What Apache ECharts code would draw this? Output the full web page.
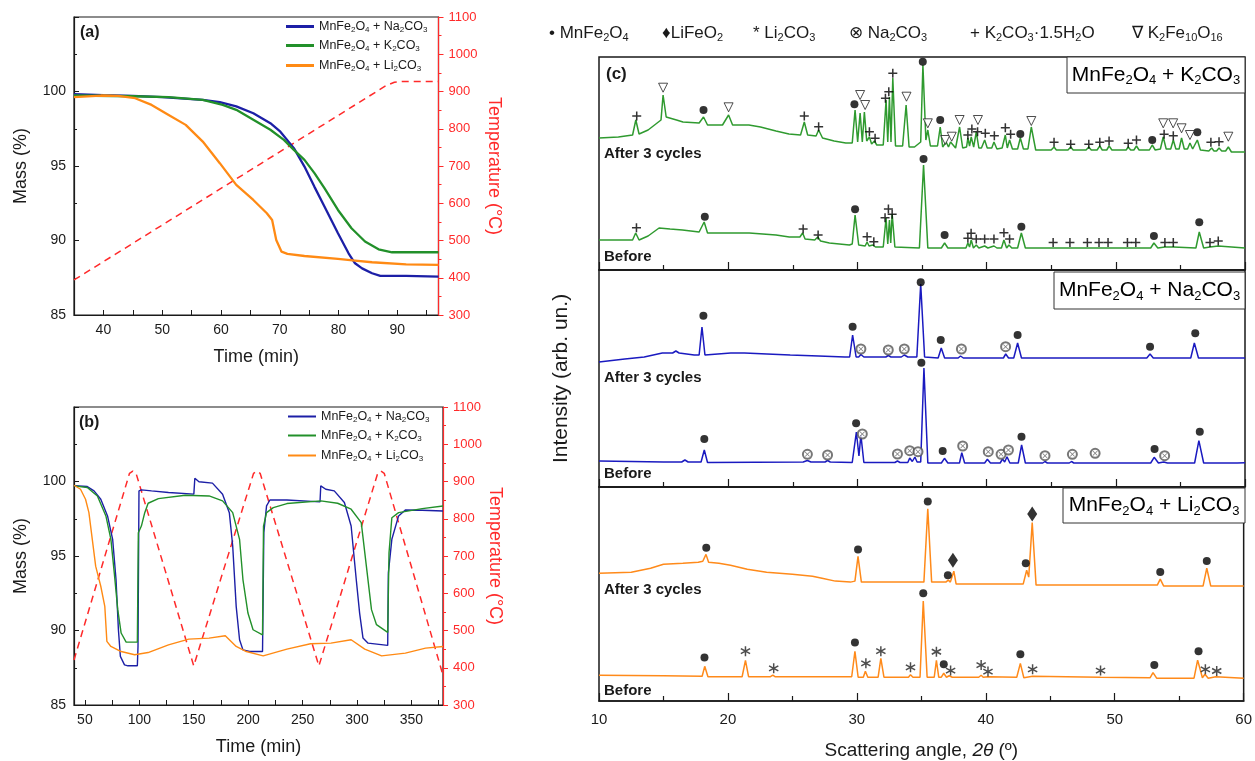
<!DOCTYPE html>
<html>
<head>
<meta charset="utf-8">
<script src="https://cdn.jsdelivr.net/npm/echarts@6/dist/echarts.min.js"></script>
<style>
  html, body { margin: 0; padding: 0; background: #fff; }
  #chart { width: 1255px; height: 761px; }
</style>
</head>
<body>
<div id="chart"></div>
<script>
// ---------- panel (a): first heating, [time (min), mass (%)] ----------
const aNa = [[35,99.82],[40,99.75],[45,99.7],[50,99.62],[56.9,99.44],[59.8,99.28],[62.6,99.0],[65.5,98.54],[68.4,97.87],[70.1,97.3],[72.4,96.2],[74.2,94.96],[75.9,93.6],[77.6,92.28],[79.9,90.49],[81.7,89.14],[82.8,88.47],[84.0,88.13],[85.7,87.8],[87.1,87.62],[91.5,87.62],[97,87.58]];
const aK = [[35,99.73],[45,99.68],[51.1,99.62],[56.9,99.44],[60.3,99.1],[62.6,98.77],[65.5,98.1],[68.4,97.43],[70.7,96.75],[72.4,96.08],[74.2,95.41],[75.9,94.52],[77.6,93.51],[79.9,92.05],[82.2,90.82],[84.5,89.93],[86.8,89.41],[89.1,89.21],[97,89.21]];
const aLi = [[35,99.62],[39.6,99.73],[42.5,99.71],[45.4,99.55],[48.2,99.1],[51.1,98.43],[54.0,97.76],[56.9,96.64],[59.8,95.19],[62.6,93.73],[65.5,92.72],[67.8,91.83],[68.7,91.38],[69.4,90.04],[70.3,89.25],[71.3,89.1],[74.2,88.96],[79.9,88.76],[82.8,88.65],[85.7,88.54],[91.5,88.4],[97,88.36]];
const aTemp = [[35,394],[88,915],[89.5,925],[91,927],[97,927]];
const aTimeLabels = [40,50,60,70,80,90];
const aTimeTicks = [40,45,50,55,60,65,70,75,80,85,90,95];

// ---------- panel (b): three cycles ----------
const bNa = [[40,99.71],[52.2,99.66],[58.4,99.37],[64.6,98.81],[70.8,97.69],[75.5,96.12],[78.6,93.42],[80.8,90.05],[82.6,88.26],[86.4,87.69],[89.5,87.63],[98.2,87.63],[98.8,88.93],[99.7,99.37],[101.9,99.44],[111.2,99.37],[126.8,99.26],[150.1,99.15],[151,100.22],[154.8,99.98],[167.2,99.89],[176.5,99.15],[182.7,97.91],[185.8,95.67],[189.0,91.62],[192.1,89.38],[195.2,88.7],[201.4,88.59],[213.2,88.59],[214.4,96.56],[216.9,98.36],[220.0,98.76],[235.6,98.76],[266.0,98.63],[266.7,99.71],[271.3,99.48],[279.1,99.37],[288.4,98.59],[294.6,97.01],[299.3,93.42],[302.4,91.17],[305.5,89.49],[310.2,89.15],[328.2,89.0],[328.8,93.87],[332.0,96.12],[338.2,97.69],[344.4,98.09],[359.9,98.07],[379,98.02]];
const bK = [[40,99.71],[52.2,99.6],[61.5,99.03],[69.3,97.69],[73.9,96.12],[77.0,93.87],[80.2,91.4],[83.3,89.83],[87.9,89.22],[98.2,89.22],[99.1,96.56],[101.9,97.01],[105.0,97.91],[108.1,98.54],[117.5,98.85],[142.3,99.08],[164.1,99.03],[176.5,98.7],[185.8,97.91],[192.1,96.12],[195.2,93.42],[199.8,91.17],[204.5,90.05],[213.2,89.71],[214.1,97.01],[216.9,97.91],[223.1,98.25],[235.6,98.52],[266.7,98.7],[282.2,98.54],[294.6,98.14],[303.9,97.24],[308.6,94.32],[313.3,91.4],[317.9,90.39],[328.2,89.87],[329.4,95.22],[332.0,97.57],[338.2,97.91],[359.9,98.18],[379,98.36]];
const bLi = [[40,99.75],[46.0,99.48],[50.6,98.81],[53.7,97.91],[56.8,96.12],[59.9,94.32],[64.6,92.97],[68.3,91.62],[70.2,89.27],[73.9,88.93],[83.3,88.59],[95.7,88.37],[108.1,88.52],[126.8,89.04],[145.4,89.42],[164.1,89.49],[179.0,89.65],[189.0,88.93],[198.3,88.59],[213.8,88.3],[235.6,88.75],[257.3,89.11],[276.0,89.15],[294.6,89.38],[307.1,88.75],[322.6,88.3],[344.4,88.48],[363.0,88.82],[379,88.93]];
const bTemp = [[40,421],[91,922],[94,928],[97,922],[150,405],[205,922],[208,928],[211,922],[265,405],[319,922],[322,928],[325,922],[379,380]];
const bTimeLabels = [50,100,150,200,250,300,350];
const bTimeTicks = [50,75,100,125,150,175,200,225,250,275,300,325,350,375];

// ---------- panel (c): XRD, [2theta, intensity (arb.)] ----------
const cKAfter = [[10,132],[11.5,133],[12.6,135],[12.85,150],[13.1,136],[13.8,140],[14.4,146],[14.8,150],[14.96,175],[15.2,153],[16.0,150],[16.5,148],[17.75,147],[18.09,153],[18.4,145],[19.56,145],[20.03,155],[20.34,145],[21.6,145],[22.5,143],[23.7,139],[24.7,136],[25.6,135],[25.89,148],[26.15,135],[26.8,134],[27.0,140],[27.3,132],[28.2,129],[29.1,127],[29.6,127],[29.82,160],[30.02,128],[30.21,157],[30.38,128],[30.54,158],[30.72,129],[30.93,133],[31.1,126],[31.32,129],[31.5,125],[32.0,125],[32.22,170],[32.35,128],[32.48,173],[32.6,128],[32.74,192],[32.95,124],[33.5,124],[33.77,165],[34.0,123],[34.42,123],[34.9,128],[35.07,205],[35.3,130],[35.45,140],[35.65,124],[36.2,124],[36.41,143],[36.6,123],[36.87,128],[37.05,123],[37.21,128],[37.6,122],[37.91,143],[38.15,122],[38.45,123],[38.55,132],[38.68,124],[38.81,133],[39.0,123],[39.2,138],[39.4,122],[39.6,122],[39.85,130],[40.05,122],[40.4,122],[40.57,128],[40.8,121],[41.2,122],[41.45,135],[41.6,122],[41.78,130],[42.0,121],[42.4,121],[42.61,132],[42.85,121],[43.2,121],[43.46,143],[43.8,120],[45.0,120],[45.22,123],[45.4,120],[46.3,120],[46.51,123],[46.7,120],[47.7,120],[47.91,123],[48.1,120],[48.55,120],[48.76,124],[48.95,120],[49.3,120],[49.48,124],[49.7,120],[50.8,120],[50.96,123],[51.15,120],[51.4,120],[51.6,124],[51.8,120],[52.6,120],[52.82,125],[53.05,120],[53.45,121],[53.67,133],[53.9,121],[54.25,121],[54.45,130],[54.65,121],[54.9,121],[55.09,132],[55.3,121],[55.55,121],[55.74,127],[55.95,121],[56.1,122],[56.31,130],[56.55,120],[57.2,119],[57.42,122],[57.6,119],[57.8,119],[57.99,122],[58.2,119],[58.5,119],[58.71,123],[58.95,118],[60,118]];
const cKBefore = [[10,30],[12.6,30],[12.84,37],[13.1,30],[13.8,34],[14.65,42],[15.5,41],[16.46,40],[17.75,38],[18.14,48],[18.4,37],[19.5,37],[21.63,37],[23.7,35],[24.73,33],[25.55,33],[25.76,37],[25.95,31],[26.7,30],[26.93,33],[27.15,29],[27.83,27],[29.38,25],[29.6,26],[29.82,55],[30.1,25],[30.6,24],[30.75,28],[30.9,24],[31.19,25],[31.4,23],[32.0,23],[32.22,52],[32.35,26],[32.48,50],[32.58,27],[32.69,56],[32.9,23],[34.8,22],[35.12,105],[35.45,22],[36.5,22],[36.75,27],[37.0,22],[38.4,22],[38.55,27],[38.68,23],[38.81,30],[38.98,22],[39.2,25],[39.4,22],[39.85,24],[40.1,22],[40.57,24],[40.8,22],[41.15,22],[41.34,30],[41.55,22],[41.73,25],[41.95,22],[42.4,22],[42.69,37],[43.0,22],[52.7,22],[52.95,27],[53.25,22],[53.8,23],[54.45,23],[56.2,22],[56.46,38],[56.8,22],[57.29,23],[57.93,24],[60,22]];
const cNaAfter = [[10,125],[12,128],[13.5,130],[14.9,134],[15.7,134],[15.95,136],[16.2,134],[17.37,132],[17.75,132],[17.97,160],[18.2,132],[20.2,134],[21.26,134],[23.0,133],[24.8,132],[27.0,131],[29.03,130],[29.4,130],[29.63,152],[29.9,130],[30.1,130],[30.27,132.5],[30.5,130],[32.2,130],[32.39,131.5],[32.6,130],[33.4,130],[33.63,132],[33.9,130],[34.6,130],[34.9,203],[35.2,130],[36.25,129],[36.49,139],[36.75,129],[37.8,129],[37.98,131],[38.2,129],[41.3,129],[41.48,133],[41.7,129],[42.1,129],[42.4,144],[42.7,129],[52.4,129],[52.65,133],[52.9,129],[55.8,129],[56.08,144],[56.4,129],[60,129]];
const cNaBefore = [[10,26],[15,25],[16.4,25],[16.65,27],[16.9,25],[17.9,25],[18.15,37],[18.4,24.5],[25.8,25],[26.13,26.5],[26.4,25],[27.5,25],[27.69,26.5],[27.9,25],[29.6,24.5],[29.92,55],[30.12,31],[30.27,52],[30.5,24.5],[32.9,24.5],[33.1,26],[33.3,24.5],[33.9,24.5],[34.05,29],[34.25,25.5],[34.45,30],[34.62,25],[34.9,25],[35.15,119],[35.45,24],[36.5,24],[36.74,28.7],[37.0,24],[37.9,24],[38.08,34.3],[38.3,24],[39.85,24],[40.06,27.7],[40.3,24],[41.05,24],[41.23,28],[41.4,25],[41.58,30.3],[41.8,24],[42.45,24],[42.71,42],[43.0,24],[44.35,24],[44.52,25.5],[44.7,24],[46.4,24],[46.57,25.5],[46.75,24],[48.15,24],[48.3,26],[48.5,24],[52.7,24],[52.97,29.7],[53.3,24],[53.71,25],[54.0,24],[56.1,24],[56.43,46.3],[56.8,24],[58.6,24],[58.73,26],[58.85,24],[59.15,24],[59.26,26],[59.4,24],[60,24.3]];
const cLiAfter = [[10,129],[12.5,130],[14.0,134],[15.0,138],[16.5,139],[17.7,140],[18.05,141],[18.3,148],[18.5,140],[19.3,139],[20.2,137],[21.5,133],[23.0,130],[25.0,128],[26.56,126],[27.3,124],[28.33,121],[29.5,120],[29.85,121],[30.09,146],[30.35,120],[32.0,120],[34.16,120],[35.2,120],[35.5,194],[35.8,120],[36.9,120],[37.09,122],[37.25,120],[37.52,131],[37.7,118],[42.9,118],[43.17,132],[43.33,125],[43.6,180],[43.9,117],[53.3,117],[53.53,123],[53.8,116],[56.85,116],[57.14,134],[57.45,116],[60,116]];
const cLiBefore = [[10,26],[15,25.5],[18.0,25],[18.2,35],[18.45,24.5],[21.1,24.5],[21.36,41],[21.6,24.5],[23.3,24.5],[23.48,26],[23.65,24.5],[29.6,24.5],[29.85,50],[30.1,24],[30.5,24],[30.66,30],[30.85,24],[31.65,24],[31.86,43],[32.1,24],[34.0,24],[34.16,26.5],[34.35,24],[34.9,24],[35.15,101],[35.45,24],[36.0,24],[36.17,41],[36.35,24],[36.55,24],[36.74,28],[36.95,24],[37.16,25.5],[37.4,24],[39.45,24],[39.64,26],[39.8,24],[40.17,24.5],[42.4,24],[42.68,38],[42.95,23.5],[43.63,25],[48.9,24],[52.75,23.5],[52.97,28.7],[53.25,23],[56.15,23],[56.43,41.3],[56.8,23.5],[57.0,27],[57.25,23],[57.84,24.5],[60,23]];
const cAngleLabels = [10,20,30,40,50,60];

// phase markers above the peaks
const kSpinel = [[18.09,160],[29.77,165.7],[35.06,208.3],[36.41,150],[42.61,136],[52.82,130],[56.31,137.7],[18.19,53.3],[29.82,60.7],[35.12,111],[36.75,35],[42.69,43.3],[52.95,34],[56.46,47.7]];
const kFerrite = [[14.96,182.3],[20.03,162.7],[30.21,175],[30.6,165],[33.8,173.3],[35.45,146.7],[36.8,130],[37.3,133.3],[37.91,150],[39.33,150],[43.46,149],[53.67,146.7],[54.44,146.7],[55.09,141.7],[55.74,135],[58.71,133.3]];
const kHydrate = [[12.92,154],[25.89,154],[27.0,143.3],[30.93,138.3],[31.37,131.7],[32.17,171.7],[32.43,178.3],[32.74,196.7],[38.55,135],[38.86,141],[39.3,138.3],[39.9,136.7],[40.6,134.3],[41.45,142.3],[41.86,135.7],[45.22,127.7],[46.51,125.7],[47.91,125.7],[48.76,127.7],[49.48,129],[50.96,126.7],[51.6,130],[53.74,135.7],[54.45,134.3],[57.36,127.7],[57.99,128.3],
  [12.9,42.3],[25.8,41],[26.96,35],[30.75,33.3],[31.27,28.3],[32.14,52.3],[32.4,61],[32.69,55.7],[38.55,31.7],[38.8,36.7],[39.2,31],[39.85,31],[40.57,31],[41.34,37.3],[41.78,31],[45.15,27.5],[46.45,27.5],[47.8,27.5],[48.7,27.5],[49.4,27.5],[50.9,27.5],[51.55,27.5],[53.8,27.5],[54.45,27.5],[57.29,27.5],[57.93,29]];
const naSpinel = [[18.08,171.3],[29.63,160.3],[34.9,204.7],[36.45,147],[42.4,152],[52.65,140.3],[56.15,153.7],[18.15,48],[29.9,63.7],[34.95,124.3],[36.6,36],[42.7,50.3],[53.0,38],[56.5,55.3]];
const naCarbonate = [[30.27,138],[32.39,137],[33.63,138],[38.05,138],[41.47,140.3],[26.13,32.7],[27.69,32],[30.38,53],[33.1,33],[34.05,36.3],[34.69,35.3],[38.15,41],[40.13,35.3],[41.12,32.7],[41.69,37],[44.52,31.3],[46.64,32.7],[48.4,33.7],[53.78,31.3]];
const liSpinel = [[18.32,154.7],[30.09,153],[35.5,201.3],[37.06,127],[43.1,139],[53.53,130.3],[57.14,141.3],[18.18,44],[29.85,59],[35.15,108.7],[36.74,37],[42.68,47.3],[53.07,36.3],[56.5,50.3]];
const liFerrite = [[37.45,142],[43.6,188.7]];
const liCarbonate = [[21.36,50.3],[23.55,33],[30.7,38],[31.86,50.3],[34.16,34],[36.17,49.7],[37.27,30.7],[39.64,36.3],[40.17,29.7],[43.63,32],[48.9,30.7],[57.03,32],[57.91,30.3]];

const FONT = '"Liberation Sans", Arial, Helvetica, sans-serif';
const INK = '#1a1a1a';
const RED = '#ff2a2a';
const BLUE = '#1c1fa6', GREEN = '#22902a', ORANGE = '#ff8a14';
const XBLUE = '#1a1ac0', XGREEN = '#2f9a2f', XORANGE = '#ff8a1a';

// 'MnFe_2O_4' -> rich text with subscripts
function chem(s, n, sub) {
  return s.split(/_(\d+)/).map((p, i) => p === '' ? '' : (i % 2 ? `{${sub}|${p}}` : `{${n}|${p}}`)).join('');
}

const mixNames = { Na: 'MnFe_2O_4 + Na_2CO_3', K: 'MnFe_2O_4 + K_2CO_3', Li: 'MnFe_2O_4 + Li_2CO_3' };

const chart = echarts.init(document.getElementById('chart'));

const legendRich = {
  n: { fontSize: 12.5, color: INK, fontFamily: FONT },
  s: { fontSize: 8, color: INK, fontFamily: FONT, padding: [7, 0, 0, 0] }
};
function legendRow(name, left, yc) {
  return {
    data: [name], left, top: yc - 8, padding: 0, icon: 'rect', itemWidth: 28, itemHeight: name[0] === 'a' ? 3 : 2,
    formatter: n => chem(mixNames[n.slice(1)], 'n', 's'),
    textStyle: { rich: legendRich }, selectedMode: false
  };
}

function massAxis(gi) {
  return {
    gridIndex: gi, type: 'value', min: 85, max: 105, interval: 5, position: 'left',
    name: 'Mass (%)', nameLocation: 'middle', nameGap: 44,
    nameTextStyle: { fontSize: 18, color: INK, fontFamily: FONT },
    axisLine: { show: true, lineStyle: { color: INK, width: 1.2 } },
    axisTick: { inside: true, length: 5, lineStyle: { color: INK } },
    minorTick: { show: true, splitNumber: 2, length: 3, lineStyle: { color: INK } },
    axisLabel: { fontSize: 14, color: INK, fontFamily: FONT, margin: 8, formatter: v => (v === 105 ? '' : String(v)) },
    splitLine: { show: false }
  };
}
function tempAxis(gi, gap) {
  return {
    gridIndex: gi, type: 'value', min: 300, max: 1100, interval: 100, position: 'right',
    name: 'Temperature (°C)', nameLocation: 'middle', nameGap: gap, nameRotate: -90,
    nameTextStyle: { fontSize: 18, color: RED, fontFamily: FONT },
    axisLine: { show: true, lineStyle: { color: RED, width: 1.2 } },
    axisTick: { length: 5, lineStyle: { color: RED } },
    minorTick: { show: true, splitNumber: 2, length: 3, lineStyle: { color: RED } },
    axisLabel: { fontSize: 13, color: RED, fontFamily: FONT, margin: 10, formatter: v => String(v) },
    splitLine: { show: false }
  };
}
function timeAxis(gi, min, max, labels, ticks) {
  return {
    gridIndex: gi, type: 'value', min, max,
    name: 'Time (min)', nameLocation: 'middle', nameGap: 33,
    nameTextStyle: { fontSize: 18, color: INK, fontFamily: FONT },
    axisLine: { show: true, lineStyle: { color: INK, width: 1.2 } },
    axisTick: { inside: true, length: 5, customValues: ticks, lineStyle: { color: INK } },
    axisLabel: { fontSize: 14, color: INK, fontFamily: FONT, margin: 8, customValues: labels },
    splitLine: { show: false }
  };
}
function angleAxis(gi, withLabels) {
  return {
    gridIndex: gi, type: 'value', min: 10, max: 60, interval: 10,
    name: withLabels ? '{n|Scattering angle, }{i|2θ}{n| (º)}' : '', nameLocation: 'middle', nameGap: 40,
    nameTextStyle: { rich: { n: { fontSize: 19, color: INK, fontFamily: FONT }, i: { fontSize: 19, color: INK, fontFamily: FONT, fontStyle: 'italic' } } },
    axisLine: { show: true, lineStyle: { color: INK, width: 1.5 } },
    axisTick: { inside: true, length: 8, lineStyle: { color: INK, width: 1.2 } },
    minorTick: { show: true, splitNumber: 2, length: 5, lineStyle: { color: INK, width: 1.2 } },
    axisLabel: { show: withLabels, fontSize: 15, color: INK, fontFamily: FONT, margin: 11 },
    splitLine: { show: false }
  };
}
function xrdYAxis(gi, h, name) {
  return {
    gridIndex: gi, type: 'value', min: 0, max: h,
    name: name || '', nameLocation: 'middle', nameGap: 27,
    nameTextStyle: { fontSize: 21, color: INK, fontFamily: FONT },
    axisLine: { show: false }, axisTick: { show: false }, axisLabel: { show: false }, splitLine: { show: false }
  };
}

function line(name, data, xi, yi, color, width, dashed) {
  return {
    name, type: 'line', data, xAxisIndex: xi, yAxisIndex: yi, showSymbol: false, silent: true,
    lineStyle: { color, width, type: dashed ? [7, 5] : 'solid' }, itemStyle: { color }, z: 2
  };
}
function marks(data, xi, yi, symbol, size, itemStyle) {
  return { type: 'scatter', data, xAxisIndex: xi, yAxisIndex: yi, symbol, symbolSize: size, itemStyle, silent: true, clip: false, z: 5 };
}
const PLUS = 'path://M4.15,0H5.85V10H4.15Z M0,4.15H10V5.85H0Z';
const STAR = 'path://M4.3,0H5.7V10H4.3Z M1.0,1.85L9.7,6.85L9.0,8.15L0.3,3.15Z M0.3,6.85L9.0,1.85L9.7,3.15L1.0,8.15Z';
const TRI = 'path://M0,0L10,0L5,9Z';
const CROSS = 'path://M1,0L5,4L9,0L10,1L6,5L10,9L9,10L5,6L1,10L0,9L4,5L0,1Z';

const gridBorder = { show: true, borderColor: INK, borderWidth: 1.2, backgroundColor: 'transparent' };

function text(x, y, str, opts) {
  return Object.assign({ type: 'text', x, y, z: 20, silent: true,
    style: Object.assign({ text: str, fill: INK, fontFamily: FONT, fontSize: 15, align: 'left', verticalAlign: 'middle' }, opts || {}) });
}
const phaseRich = {
  n: { fontSize: 17, color: INK, fontFamily: FONT },
  s: { fontSize: 11, color: INK, fontFamily: FONT, padding: [9, 0, 0, 0] }
};
const boxRich = {
  n: { fontSize: 21, color: INK, fontFamily: FONT },
  s: { fontSize: 13, color: INK, fontFamily: FONT, padding: [11, 0, 0, 0] }
};
function sampleBox(x, y, w, h, key) {
  return [
    { type: 'rect', z: 18, silent: true, shape: { x, y, width: w, height: h }, style: { fill: '#fff', stroke: '#333', lineWidth: 1 } },
    { type: 'text', z: 19, silent: true, x: x + w / 2, y: y + h / 2,
      style: { text: chem(mixNames[key], 'n', 's'), rich: boxRich, align: 'center', verticalAlign: 'middle' } }
  ];
}

const option = {
  animation: false,
  backgroundColor: '#fff',
  textStyle: { fontFamily: FONT },
  grid: [
    Object.assign({ left: 74, top: 17, width: 364.5, height: 298 }, gridBorder),
    Object.assign({ left: 74, top: 407, width: 369, height: 298 }, gridBorder),
    Object.assign({ left: 599, top: 57, width: 646, height: 213 }, gridBorder, { borderWidth: 1.5 }),
    Object.assign({ left: 599, top: 270, width: 646, height: 217 }, gridBorder, { borderWidth: 1.5 }),
    Object.assign({ left: 599, top: 487, width: 646, height: 216 }, gridBorder, { borderWidth: 1.5 })
  ],
  xAxis: [
    timeAxis(0, 35, 97, aTimeLabels, aTimeTicks),
    timeAxis(1, 40, 379, bTimeLabels, bTimeTicks),
    angleAxis(2, false),
    angleAxis(3, false),
    Object.assign(angleAxis(4, true), { axisLabel: { show: true, fontSize: 15, color: INK, fontFamily: FONT, margin: 11, customValues: cAngleLabels } })
  ],
  yAxis: [
    massAxis(0), tempAxis(0, 46),
    massAxis(1), tempAxis(1, 39),
    xrdYAxis(2, 213), xrdYAxis(3, 217, 'Intensity (arb. un.)'), xrdYAxis(4, 216)
  ],
  legend: [
    legendRow('aNa', 286, 28), legendRow('aK', 286, 47), legendRow('aLi', 286, 67),
    legendRow('bNa', 288, 418), legendRow('bK', 288, 437), legendRow('bLi', 288, 457)
  ],
  series: [
    line('aTemp', aTemp, 0, 1, RED, 1.5, true),
    line('aNa', aNa, 0, 0, BLUE, 2.3),
    line('aK', aK, 0, 0, GREEN, 2.3),
    line('aLi', aLi, 0, 0, ORANGE, 2.3),
    line('bTemp', bTemp, 1, 3, RED, 1.5, true),
    line('bNa', bNa, 1, 2, BLUE, 1.4),
    line('bK', bK, 1, 2, GREEN, 1.4),
    line('bLi', bLi, 1, 2, ORANGE, 1.4),

    line('cKAfter', cKAfter, 2, 4, XGREEN, 1.5),
    line('cKBefore', cKBefore, 2, 4, XGREEN, 1.5),
    line('cNaAfter', cNaAfter, 3, 5, XBLUE, 1.5),
    line('cNaBefore', cNaBefore, 3, 5, XBLUE, 1.5),
    line('cLiAfter', cLiAfter, 4, 6, XORANGE, 1.5),
    line('cLiBefore', cLiBefore, 4, 6, XORANGE, 1.5),

    marks(kSpinel, 2, 4, 'circle', 8, { color: '#000' }),
    marks(kFerrite, 2, 4, TRI, [9, 9], { color: '#fff', borderColor: '#222', borderWidth: 1 }),
    marks(kHydrate, 2, 4, PLUS, 9, { color: '#000' }),
    marks(naSpinel, 3, 5, 'circle', 8, { color: '#000' }),
    marks(naCarbonate, 3, 5, 'emptyCircle', 9, { color: '#555', borderWidth: 1 }),
    marks(naCarbonate, 3, 5, CROSS, 5, { color: '#555' }),
    marks(liSpinel, 4, 6, 'circle', 8, { color: '#000' }),
    marks(liFerrite, 4, 6, 'diamond', [10, 15], { color: '#000' }),
    marks(liCarbonate, 4, 6, STAR, 10, { color: '#222' })
  ],
  graphic: [
    text(80, 33, '(a)', { fontSize: 16, fontWeight: 'bold' }),
    text(79, 423, '(b)', { fontSize: 16, fontWeight: 'bold' }),
    text(606, 74, '(c)', { fontSize: 17, fontWeight: 'bold' }),

    text(549, 33, chem('• MnFe_2O_4', 'n', 's'), { rich: phaseRich }),
    text(662, 33, chem('♦LiFeO_2', 'n', 's'), { rich: phaseRich }),
    text(753, 33, chem('* Li_2CO_3', 'n', 's'), { rich: phaseRich }),
    text(849, 33, chem('⊗ Na_2CO_3', 'n', 's'), { rich: phaseRich }),
    text(970, 33, chem('+ K_2CO_3·1.5H_2O', 'n', 's'), { rich: phaseRich }),
    text(1132, 33, chem('∇ K_2Fe_10O_16', 'n', 's'), { rich: phaseRich }),

    ...sampleBox(1067, 57, 178, 36, 'K'),
    ...sampleBox(1054, 272, 191, 37, 'Na'),
    ...sampleBox(1063, 488, 182, 35, 'Li'),

    text(604, 154, 'After 3 cycles', { fontWeight: 'bold' }),
    text(604, 257, 'Before', { fontWeight: 'bold' }),
    text(604, 378, 'After 3 cycles', { fontWeight: 'bold' }),
    text(604, 474, 'Before', { fontWeight: 'bold' }),
    text(604, 590, 'After 3 cycles', { fontWeight: 'bold' }),
    text(604, 691, 'Before', { fontWeight: 'bold' })
  ]
};

chart.setOption(option);
</script>
</body>
</html>
